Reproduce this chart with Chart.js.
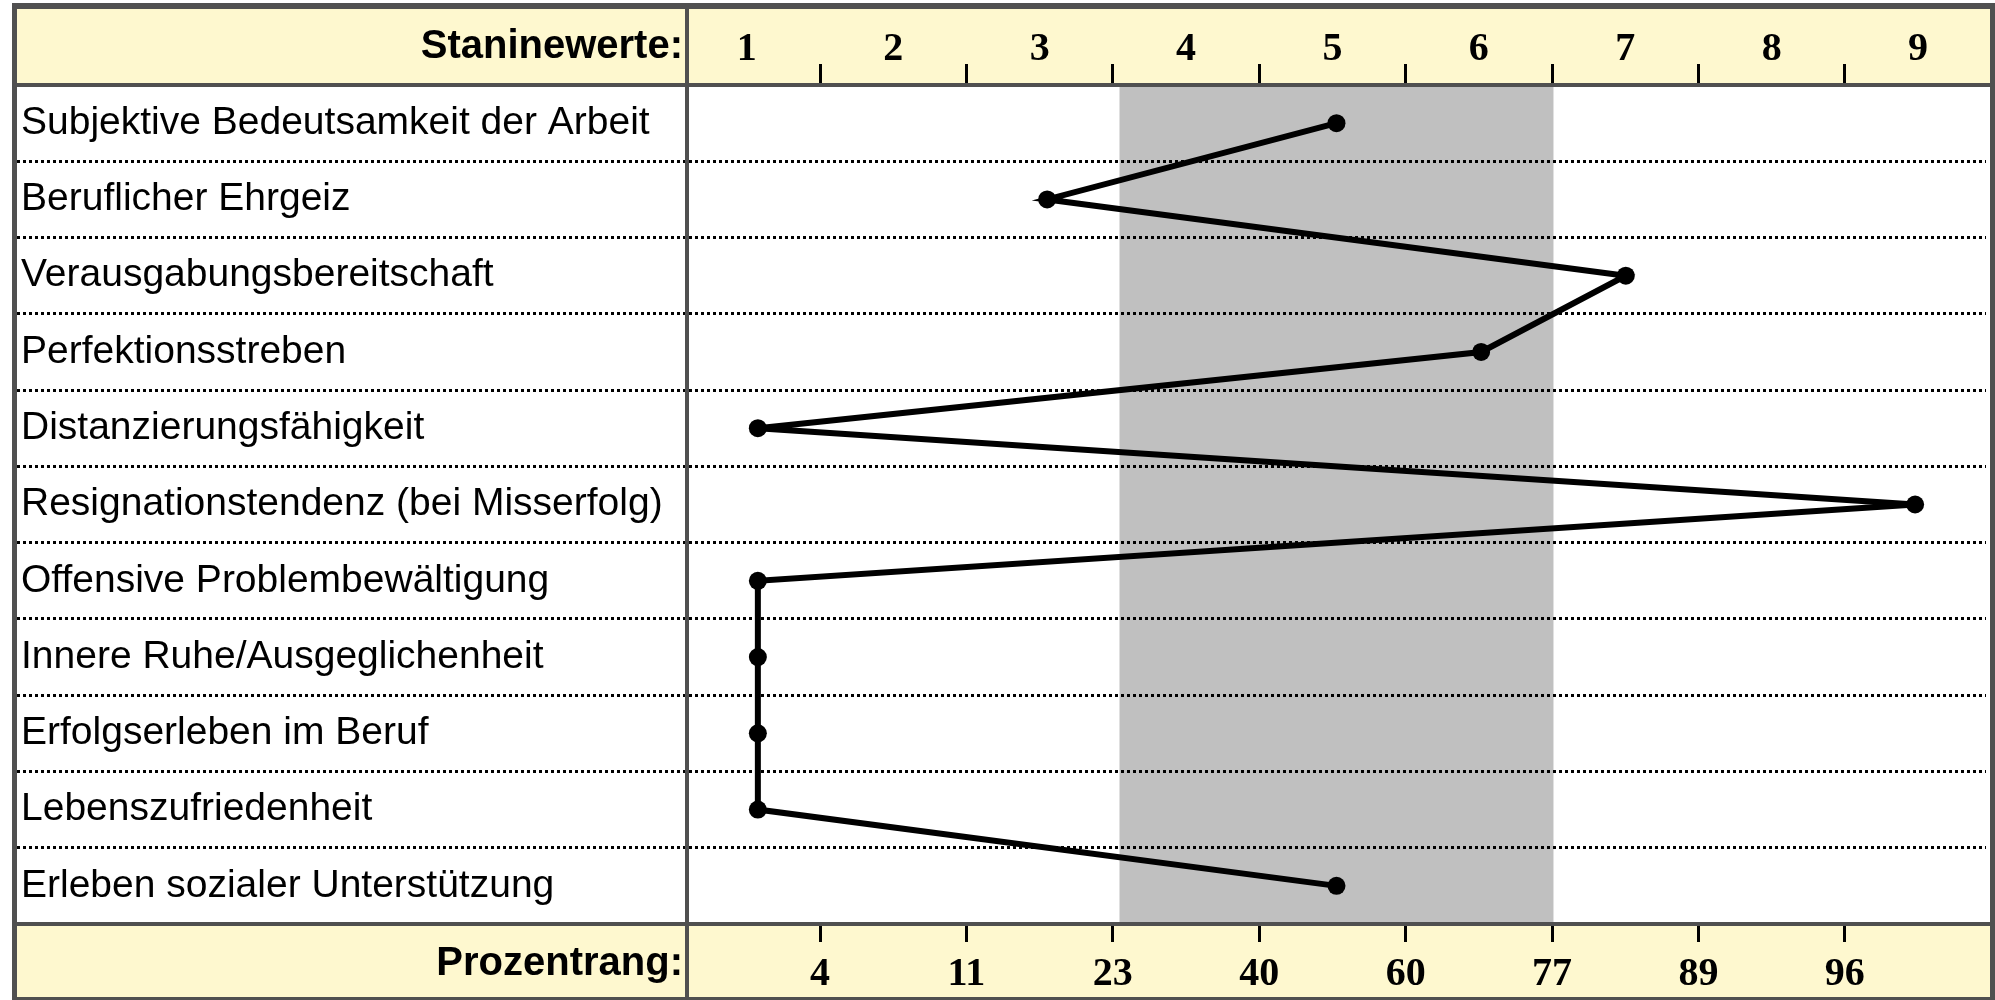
<!DOCTYPE html>
<html>
<head>
<meta charset="utf-8">
<title>AVEM Profil</title>
<script src="https://cdn.jsdelivr.net/npm/chart.js@4.4.1/dist/chart.umd.min.js"></script>
<style>
    html, body { margin: 0; padding: 0; background: #ffffff; }
    #wrap { width: 1995px; height: 1000px; position: relative; }
</style>
</head>
<body>
<div id="wrap"><canvas id="profil"></canvas></div>
<script>
// Skalen des Profils (Zeilen von oben nach unten)
const skalen = [
    'Subjektive Bedeutsamkeit der Arbeit',
    'Beruflicher Ehrgeiz',
    'Verausgabungsbereitschaft',
    'Perfektionsstreben',
    'Distanzierungsfähigkeit',
    'Resignationstendenz (bei Misserfolg)',
    'Offensive Problembewältigung',
    'Innere Ruhe/Ausgeglichenheit',
    'Erfolgserleben im Beruf',
    'Lebenszufriedenheit',
    'Erleben sozialer Unterstützung'
];

// Stanine-Werte je Skala
const staninewerte = [5, 3, 7, 6, 1, 9, 1, 1, 1, 1, 5];

// Achsenbeschriftungen
const stanineTicks = [1, 2, 3, 4, 5, 6, 7, 8, 9];
const prozentrangGrenzen = [1.5, 2.5, 3.5, 4.5, 5.5, 6.5, 7.5, 8.5];
const prozentrang = ['4', '11', '23', '40', '60', '77', '89', '96'];

// grau hinterlegter Normbereich (Stanine 4 bis 6)
const normBereich = [3.5, 6.5];

const titelOben = 'Staninewerte:';
const titelUnten = 'Prozentrang:';

document.addEventListener('DOMContentLoaded', () => {
    // check whether the narrow Liberation face is installed
    function hasFont(name) {
        const c = document.createElement('canvas').getContext('2d');
        const probe = 'Staninewerte Bedeutsamkeit 0123';
        c.font = `40px "${name}", monospace`;
        const a = c.measureText(probe).width;
        c.font = `40px "${name}", serif`;
        const b = c.measureText(probe).width;
        return a === b;
    }
    const narrow = hasFont('Liberation Sans Narrow');
    const sansFamily = narrow ? "'Liberation Sans Narrow', 'Liberation Sans', Arial, sans-serif"
                              : "'Liberation Sans', Arial, sans-serif";
    const sansSize = narrow ? 48 : 39;
    const boldSize = narrow ? 48 : 40;
    const serifFont = { family: "'Liberation Serif', 'Times New Roman', serif", size: 40, weight: 'bold', lineHeight: 1 };

    const frameColor = '#505050';
    const headerFill = '#fef8cf';

    Chart.defaults.color = '#000000';
    Chart.defaults.font.family = sansFamily;

    const tabelle = {
        id: 'tabelle',
        beforeDraw(chart) {
            const { ctx, chartArea: a, scales } = chart;
            const W = chart.width, H = chart.height;
            ctx.save();
            ctx.fillStyle = '#ffffff';
            ctx.fillRect(0, 0, W, H);
            // header and footer band
            ctx.fillStyle = headerFill;
            ctx.fillRect(14, 6, W - 16, a.top - 6);
            ctx.fillRect(14, a.bottom, W - 16, H - a.bottom);
            // norm area
            const x1 = scales.x.getPixelForValue(normBereich[0]);
            const x2 = scales.x.getPixelForValue(normBereich[1]);
            ctx.fillStyle = '#c0c0c0';
            ctx.fillRect(x1, a.top, x2 - x1, a.bottom - a.top);
            ctx.restore();
        },
        afterDraw(chart) {
            const { ctx, chartArea: a } = chart;
            const W = chart.width, H = chart.height;
            ctx.save();
            ctx.fillStyle = frameColor;
            ctx.fillRect(12, 3, W - 12, 6);            // top
            ctx.fillRect(12, 3, 5, H - 3);             // left
            ctx.fillRect(W - 5, 3, 5, H - 3);          // right
            ctx.fillRect(12, H - 3, W - 12, 3);        // bottom
            ctx.fillRect(12, a.top - 2, W - 12, 4);    // under header
            ctx.fillRect(12, a.bottom - 2, W - 12, 4); // above footer
            ctx.fillRect(a.left - 4, 3, 4, H - 3);     // label column

            ctx.fillStyle = '#000000';
            ctx.font = `bold ${boldSize}px ${sansFamily}`;
            ctx.textAlign = 'right';
            ctx.textBaseline = 'middle';
            ctx.fillText(titelOben, a.left - 6, 47);
            ctx.fillText(titelUnten, a.left - 6, 964);
            ctx.restore();
        }
    };

    const ctx = document.getElementById('profil').getContext('2d');
    new Chart(ctx, {
        type: 'line',
        data: {
            labels: skalen,
            datasets: [{
                label: 'Stanine',
                data: staninewerte,
                xAxisID: 'x',
                yAxisID: 'y',
                borderColor: '#000000',
                backgroundColor: '#000000',
                borderWidth: 6,
                tension: 0,
                fill: false,
                pointRadius: 9,
                pointBackgroundColor: '#000000',
                pointBorderColor: '#000000',
                pointBorderWidth: 0
            }]
        },
        options: {
            indexAxis: 'y',
            responsive: true,
            maintainAspectRatio: false,
            animation: false,
            events: [],
            layout: { padding: { left: 21, right: 6, top: 0, bottom: 0 } },
            plugins: {
                legend: { display: false },
                tooltip: { enabled: false }
            },
            scales: {
                x: {
                    type: 'linear',
                    display: false,
                    bounds: 'data',
                    min: 0.524,
                    max: 9.49
                },
                xTop: {
                    axis: 'x',
                    type: 'linear',
                    position: 'top',
                    bounds: 'data',
                    min: 0.605,
                    max: 9.464,
                    afterBuildTicks: s => { s.ticks = stanineTicks.map(v => ({ value: v })); },
                    afterFit: s => { s.height = 85; },
                    border: { display: false },
                    grid: {
                        offset: true,
                        drawOnChartArea: false,
                        drawTicks: true,
                        tickLength: 21,
                        tickColor: '#000000',
                        tickWidth: 3
                    },
                    ticks: {
                        autoSkip: false,
                        maxRotation: 0,
                        padding: -6,
                        color: '#000000',
                        font: serifFont,
                        callback: v => String(v)
                    }
                },
                xBottom: {
                    axis: 'x',
                    type: 'linear',
                    position: 'bottom',
                    bounds: 'data',
                    min: 0.605,
                    max: 9.464,
                    afterBuildTicks: s => { s.ticks = prozentrangGrenzen.map(v => ({ value: v })); },
                    afterFit: s => { s.height = 76; },
                    border: { display: false },
                    grid: {
                        offset: false,
                        drawOnChartArea: false,
                        drawTicks: true,
                        tickLength: 18,
                        tickColor: '#000000',
                        tickWidth: 3
                    },
                    ticks: {
                        autoSkip: false,
                        maxRotation: 0,
                        padding: 13,
                        color: '#000000',
                        font: serifFont,
                        callback: (v, i) => prozentrang[i]
                    }
                },
                y: {
                    type: 'category',
                    position: 'left',
                    offset: true,
                    afterFit: s => { s.width = 668; },
                    border: { display: false, dash: [3, 3] },
                    grid: {
                        offset: true,
                        color: '#000000',
                        lineWidth: 3,
                        drawTicks: true,
                        tickLength: 672,
                        tickColor: '#000000',
                        tickWidth: 3,
                        tickBorderDash: [3, 3]
                    },
                    ticks: {
                        crossAlign: 'far',
                        autoSkip: false,
                        color: '#000000',
                        font: { family: sansFamily, size: sansSize }
                    }
                }
            }
        },
        plugins: [tabelle]
    });
});
</script>
</body>
</html>
